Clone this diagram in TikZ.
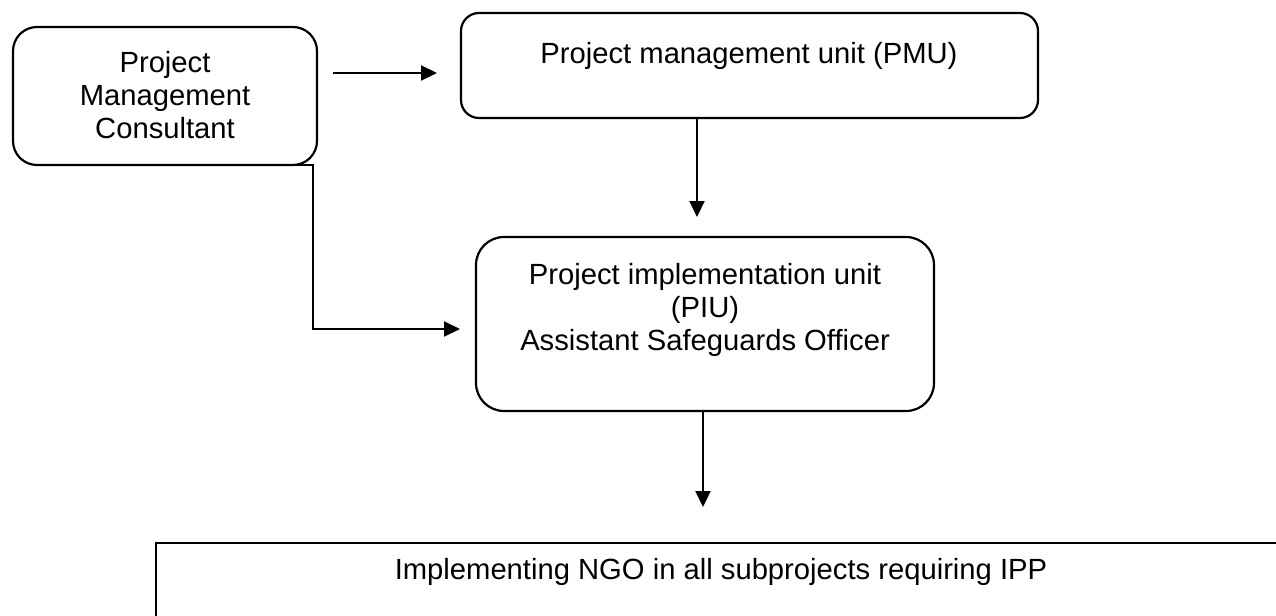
\documentclass[tikz,border=0pt]{standalone}
\usepackage{fontspec}
\setmainfont{Liberation Sans}
\usetikzlibrary{arrows.meta,calc}

\begin{document}
\begin{tikzpicture}[x=0.5pt,y=-0.5pt,
  every node/.style={inner sep=0pt, outer sep=0pt},
  unitbox/.style={draw, line width=1.1pt},
  % anchor "base" of a multi-line node sits on the baseline of its last line
  boxtext/.style={font=\fontsize{14.6}{16.5}\selectfont, align=center, anchor=base},
  arr/.style={line width=1.1pt, -{Triangle[length=8pt,width=7.5pt]}}
]
\useasboundingbox (0,0) rectangle (1276,616);
\clip (0,0) rectangle (1276,616);
\fill[white] (0,0) rectangle (1276,616);

% boxes of the organisation chart
\node[unitbox, rounded corners=12pt, minimum width=152pt, minimum height=69pt] (pmc) at (165,96) {};
\node[unitbox, rounded corners=9pt, minimum width=288.5pt, minimum height=52.5pt] (pmu) at (749.5,65.5) {};
\node[unitbox, rounded corners=14pt, minimum width=229pt, minimum height=87pt] (piu) at (705,324) {};
\node[unitbox, minimum width=565pt, minimum height=53.5pt] (ngo) at (721,596.5) {};

% box texts
\node[boxtext] (pmc text) at (165,138) {Project\\Management\\Consultant};
\node[boxtext] (pmu text) at (749,63) {Project management unit (PMU)};
\node[boxtext] (piu text) at (705,350) {Project implementation unit\\(PIU)\\Assistant Safeguards Officer};
\node[boxtext] (ngo text) at (721,579) {Implementing NGO in all subprojects requiring IPP};

% reporting lines
\draw[arr] ($(pmc.east)+(16,-23)$) -- ($(pmu.west)+(-24,7.5)$);
\draw[arr] ($(pmu.south)+(-52.5,0)$) -- ($(piu.north)+(-8,-20)$);
\draw[arr] (pmc.south) -- ++(148,0) |- ($(piu.west)+(-16,5)$);
\draw[arr] ($(piu.south)+(-2,0)$) -- ($(ngo.north)+(-18,-36)$);
\end{tikzpicture}
\end{document}
